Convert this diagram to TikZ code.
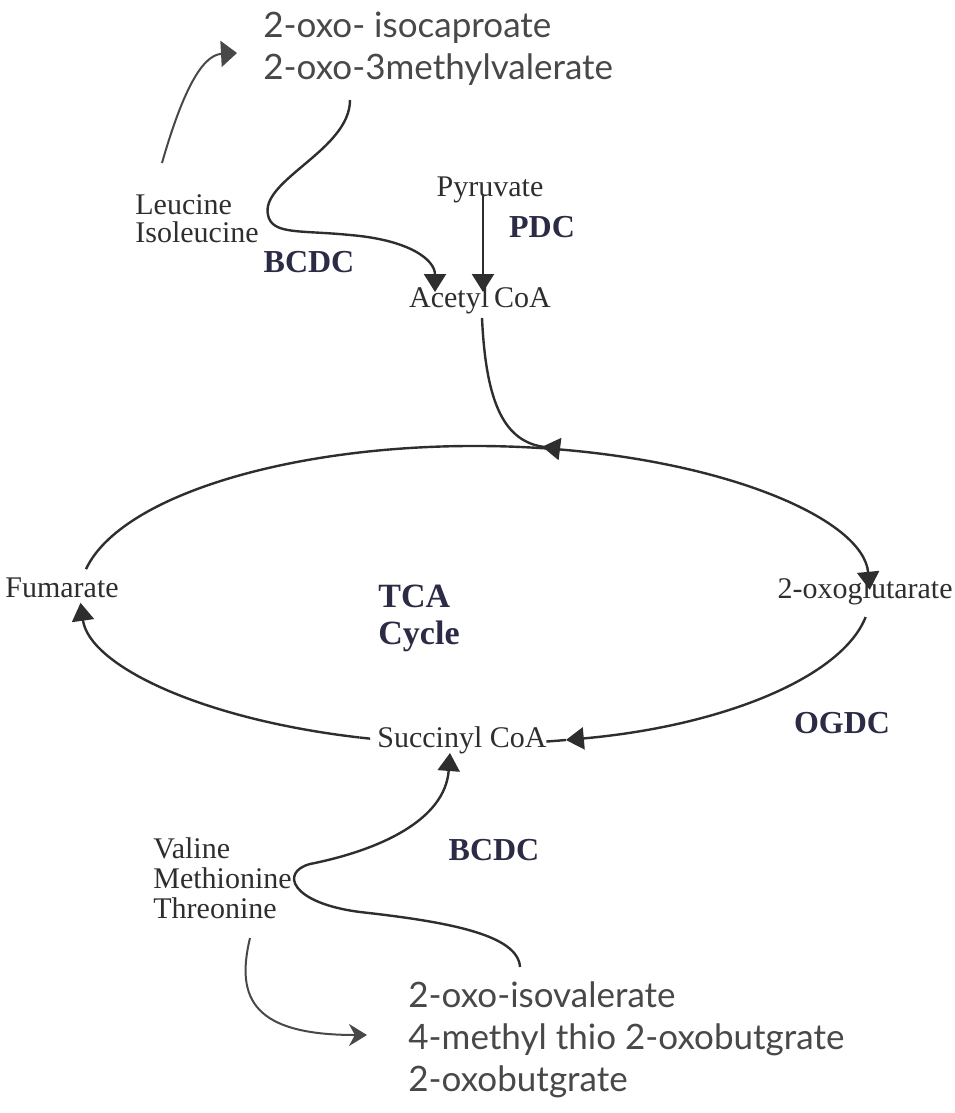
\documentclass[tikz,border=0pt]{standalone}
\usepackage{fontspec}
\setmainfont{Liberation Serif}
\newfontfamily\handfont{Lato}
\usepackage{tikz}
\usetikzlibrary{arrows.meta,positioning}
\definecolor{InkGray}{HTML}{2E2E2E}
\definecolor{PencilGray}{HTML}{484848}
\definecolor{LabelNavy}{HTML}{2B2B45}

\begin{document}
\begin{tikzpicture}[x=0.5pt, y=-0.5pt, every node/.style={font=\fontsize{15}{14}\selectfont, text=InkGray, inner sep=0pt}]
\tikzset{compound/.style={align=left}}
\tikzset{enzyme/.style={font=\fontsize{16}{18}\bfseries\selectfont, text=LabelNavy}}
\tikzset{ketoacid/.style={font=\handfont\fontsize{17.5}{21}\selectfont, text=PencilGray, align=left}}
\tikzset{arrow/.style={-{Triangle[length=9pt, width=11pt]}, line width=1.2pt, draw=InkGray}}
\tikzset{cycline/.style={line width=1.2pt, draw=InkGray}}
\tikzset{pencil/.style={line width=1pt, draw=PencilGray}}
\useasboundingbox (0,0) rectangle (954,1113);
% compounds and enzymes
\node[ketoacid, anchor=west] (bcka) at (263,49) {2-oxo- isocaproate\\2-oxo-3methylvalerate};
\node[compound, anchor=west] (leu) at (135,219) {Leucine\\Isoleucine};
\node[enzyme] (bcdc1) at (309,262) {BCDC};
\node (pyr) at (490,190) {Pyruvate};
\node[enzyme] (pdc) at (542,227) {PDC};
\node (acoa) at (480,300) {Acetyl\,CoA};
\node[enzyme, align=left, font=\fontsize{17}{18.5}\bfseries\selectfont, anchor=west] (tca) at (378,618) {TCA\\Cycle};
\node[anchor=west] (fum) at (5,588) {Fumarate};
\node[anchor=east] (ogl) at (953,591) {2-oxoglutarate};
\node[enzyme] (ogdc) at (842,723) {OGDC};
\node (succ) at (462,740) {Succinyl CoA};
\node[compound, anchor=west, font=\fontsize{15}{15}\selectfont] (vmt) at (153,878) {Valine\\Methionine\\Threonine};
\node[enzyme] (bcdc2) at (494,850) {BCDC};
\node[ketoacid, anchor=west] (bcka2) at (408,1040) {2-oxo-isovalerate\\4-methyl thio 2-oxobutgrate\\2-oxobutgrate};
% curve ends
\coordinate (cyc) at (475,595);
\coordinate (leuout) at (162,163);
\coordinate (bckain) at (237,53);
\coordinate (bckaout) at (350,100);
\coordinate (acoain) at (435,292);
\coordinate (pyrout) at (483,196);
\coordinate (pyrin) at (483,292);
\coordinate (acoaout) at (482,318);
\coordinate (join) at (560,449);
\coordinate (succin) at (450,753);
\coordinate (bcka2out) at (520,967);
\coordinate (vmtout) at (250,938);
\coordinate (bcka2in) at (367,1035);
% TCA cycle
\draw[arrow] (cyc) ++(190:395 and 149) arc[start angle=190, end angle=358, x radius=395, y radius=149];
\draw[arrow] (cyc) ++(8.5:395 and 149) arc[start angle=8.5, end angle=76.7, x radius=395, y radius=149];
\draw[cycline] (cyc) ++(76.7:395 and 149) arc[start angle=76.7, end angle=79.6, x radius=395, y radius=149];
\draw[cycline] (cyc) ++(105.4:395 and 149) arc[start angle=105.4, end angle=107, x radius=395, y radius=149];
\draw[arrow] (cyc) ++(107:395 and 149) arc[start angle=107, end angle=177, x radius=395, y radius=149];
% into the cycle
\draw[arrow] (pyrout) -- (pyrin);
\draw[arrow] (bckaout) .. controls (350,150) and (260,180) .. (268,215) .. controls (272,235) and (300,230) .. (350,235) .. controls (410,240) and (435,260) .. (acoain);
\draw[line width=1.2pt, draw=InkGray, -{Triangle[length=9pt, width=11pt, reversed]}] (acoaout) .. controls (486,405) and (505,442) .. (join);
\draw[arrow] (bcka2out) .. controls (518,935) and (450,922) .. (360,912) .. controls (290,903) and (280,872) .. (310,864) .. controls (380,850) and (445,820) .. (succin);
% transamination
\draw[pencil, -{Triangle[length=8pt, width=13pt]}] (leuout) .. controls (180,100) and (200,55) .. (bckain);
\draw[pencil, -{Stealth[length=9pt, width=11pt]}] (vmtout) .. controls (235,1000) and (255,1035) .. (bcka2in);
\end{tikzpicture}
\end{document}
